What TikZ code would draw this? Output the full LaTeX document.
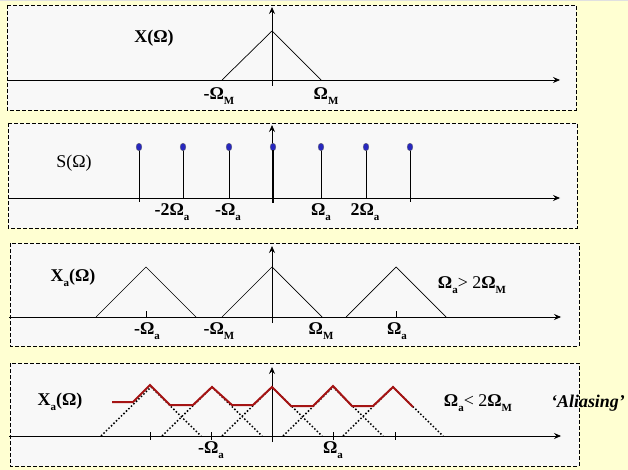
\documentclass[tikz,border=0pt]{standalone}
\usepackage{fontspec}
\setmainfont{Liberation Serif}
\usetikzlibrary{arrows.meta,positioning}
\definecolor{slidebg}{RGB}{255,255,210}
\definecolor{panelbg}{RGB}{248,248,248}
\definecolor{aliasred}{RGB}{165,20,20}
\definecolor{dotblue}{RGB}{40,40,190}
\newcommand{\lo}[1]{\raisebox{-0.55ex}{\fontsize{11}{11}\selectfont #1}}
\tikzset{
  panel/.style={draw, fill=panelbg, line width=0.8bp, dash pattern=on 4bp off 2bp},
  axis/.style={line width=0.8bp, -{Stealth[length=7bp,width=6bp,inset=2.5bp]}},
  lbl/.style={font=\fontsize{18}{20}\selectfont\bfseries, inner sep=0pt},
  spec/.style={line width=0.7bp},
  ghost/.style={line width=1.5bp, dotted},
  alias/.style={draw=aliasred, line width=2bp},
}

\begin{document}
\begin{tikzpicture}[x=1bp,y=-1bp]
  \fill[slidebg] (0,0) rectangle (628,470);
  \useasboundingbox (0,0) rectangle (628,470);
  \fill[black!12] (0,0) rectangle (628,1.5);

  % panel 1: X(Omega)
  \draw[panel] (7,5) rectangle (576,110);
  \coordinate (w1) at (7,80);
  \coordinate (e1) at (560,80);
  \draw[axis] (w1) -- (e1);
  \draw[axis] (272,86) -- (272,7);
  \draw[spec] (222,80) -- (272,31) -- (321,80);
  \node[lbl] (X) at (154,38) {X(Ω)};
  \node[lbl] (mOmM1) at (219,96) {-Ω\lo{M}};
  \node[lbl] (OmM1) at (326,96) {Ω\lo{M}};

  % panel 2: S(Omega)
  \draw[panel] (8,123) rectangle (577,228);
  \draw[axis] (8,198) -- (560,198);
  \draw[axis] (272,203) -- (272,125);
  \foreach \x in {139,183,229,273,321,366,410}{
    \draw[spec] (\x,198) -- (\x,147);
    \filldraw[fill=dotblue, draw=black!60, line width=0.3bp] (\x,147) ellipse (2.9 and 3.8);
  }
  \draw[spec] (139,198) -- (139,202); % outer
  \draw[spec] (410,198) -- (410,202); % outer
  \draw[line width=1.6bp] (273,203) -- (273,150); % centre
  \node[lbl, font=\fontsize{18}{20}\selectfont] (S) at (74,163) {S(Ω)};
  \node[lbl] (m2Oma) at (172,212) {-2Ω\lo{a}};
  \node[lbl] (mOma2) at (228,212) {-Ω\lo{a}};
  \node[lbl] (Oma2) at (321,212) {Ω\lo{a}};
  \node[lbl] (p2Oma) at (365,212) {2Ω\lo{a}};

  % panel 3: no overlap
  \draw[panel] (10,243) rectangle (579,346);
  \draw[axis] (9,317) -- (561,317);
  \draw[axis] (272,323) -- (272,246);
  \foreach \c in {146,272,396}
    \draw[spec] (\c-50,317) -- (\c,267) -- (\c+50,317);
  \foreach \c in {146,396}
    \draw[spec] (\c,317) -- (\c,311);
  \node[lbl] (Xa3) at (73,278) {X\lo{a}(Ω)};
  \node[lbl] (cond3) at (472,285) {Ω\lo{a}\textmd{> 2}Ω\lo{M}};
  \node[lbl] (mOma3) at (147,331) {-Ω\lo{a}};
  \node[lbl] (mOmM3) at (219,331) {-Ω\lo{M}};
  \node[lbl] (OmM3) at (321,331) {Ω\lo{M}};
  \node[lbl] (Oma3) at (397,331) {Ω\lo{a}};

  % panel 4: aliasing
  \draw[panel] (10,363) rectangle (579,466);
  \draw[axis] (9,436) -- (561,436);
  \draw[axis] (272,442) -- (272,367);
  \foreach \c in {151,212,272,333,393}
    \draw[ghost] (\c-50,436) -- (\c,387) -- (\c+50,436);
  \foreach \x in {150,211,333,395}
    \draw[spec] (\x,432) -- (\x,440);
  \draw[alias] (112,402) -- (133,402) -- (150,385) -- (170,405) -- (193,405)
    -- (212,387) -- (232,405) -- (253,405) -- (272,387) -- (291,406)
    -- (313,406) -- (333,386) -- (352,406) -- (373,406) -- (393,387) -- (413,407);
  \node[lbl] (Xa4) at (60,402) {X\lo{a}(Ω)};
  \node[lbl] (cond4) at (478,403) {Ω\lo{a}\textmd{< 2}Ω\lo{M}};
  \node[lbl, font=\fontsize{18}{20}\selectfont\bfseries\itshape] (alias) at (588,403) {‘Aliasing’};
  \node[lbl] (mOma4) at (211,450) {-Ω\lo{a}};
  \node[lbl] (Oma4) at (333,450) {Ω\lo{a}};
\end{tikzpicture}
\end{document}
